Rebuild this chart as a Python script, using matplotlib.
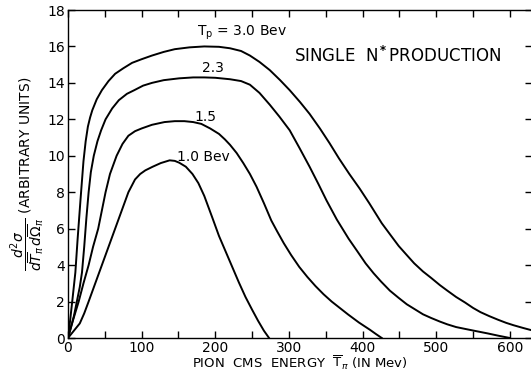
import matplotlib
matplotlib.use('Agg')
import matplotlib.pyplot as plt
from matplotlib.ticker import MultipleLocator

# pion CMS energy (Mev) and cross section (arbitrary units) for each beam energy
tp30_x = [0, 3, 6, 10, 13, 17, 21, 24, 27, 30, 33, 39, 46, 55, 64, 75, 87, 100, 114,
          130, 145, 165, 185, 205, 220, 235, 247, 260, 274, 288, 301, 315, 328, 342,
          355, 368, 382, 396, 409, 426, 437, 449, 460, 470, 482, 493, 505, 515, 527,
          539, 550, 560, 572, 584, 595, 605, 618, 630]
tp30_y = [0, 1.0, 2.1, 3.6, 5.4, 7.6, 9.7, 10.8, 11.6, 12.1, 12.5, 13.1, 13.6, 14.1,
          14.5, 14.8, 15.1, 15.3, 15.5, 15.7, 15.85, 15.95, 16.0, 15.98, 15.9, 15.75,
          15.5, 15.15, 14.7, 14.15, 13.6, 12.95, 12.3, 11.5, 10.7, 9.85, 9.0, 8.2, 7.4,
          6.3, 5.7, 5.05, 4.55, 4.1, 3.65, 3.3, 2.9, 2.6, 2.25, 1.95, 1.65, 1.42, 1.2,
          1.0, 0.83, 0.7, 0.55, 0.42]

tp23_x = [0, 4, 8, 12, 16, 19, 22, 25, 28, 31, 35, 40, 45, 51, 60, 69, 80, 90, 102,
          114, 130, 151, 170, 185, 200, 220, 235, 247, 260, 274, 287, 301, 314, 328,
          340, 351, 365, 381, 393, 404, 415, 425, 437, 449, 460, 470, 482, 493, 505,
          515, 527, 539, 555, 570, 585, 600]
tp23_y = [0, 0.6, 1.2, 2.0, 2.8, 3.6, 5.0, 6.6, 8.0, 9.1, 10.0, 10.8, 11.4, 12.0, 12.6,
          13.05, 13.4, 13.6, 13.85, 14.0, 14.15, 14.25, 14.3, 14.3, 14.28, 14.2, 14.1,
          13.9, 13.45, 12.8, 12.15, 11.4, 10.45, 9.4, 8.45, 7.55, 6.5, 5.45, 4.75, 4.1,
          3.55, 3.1, 2.6, 2.2, 1.85, 1.6, 1.3, 1.1, 0.9, 0.75, 0.6, 0.5, 0.37, 0.25,
          0.12, 0]

tp15_x = [0, 7, 14.5, 21, 28, 34, 41, 46, 51, 57, 66, 74, 82, 91, 100, 114, 131, 145,
          158, 170, 181, 193, 205, 213, 220, 229, 238, 247, 256, 266, 276, 284, 293,
          303, 314, 325, 336, 347, 358, 369, 380, 395, 410, 418, 426]
tp15_y = [0, 1.0, 2.0, 3.0, 4.0, 5.0, 6.0, 7.0, 8.0, 9.0, 10.0, 10.65, 11.1, 11.35,
          11.5, 11.7, 11.85, 11.9, 11.9, 11.85, 11.75, 11.5, 11.2, 10.9, 10.6, 10.15,
          9.6, 9.0, 8.3, 7.4, 6.45, 5.85, 5.2, 4.55, 3.9, 3.35, 2.85, 2.4, 2.0, 1.65,
          1.3, 0.85, 0.45, 0.22, 0]

tp10_x = [0, 8, 16, 22, 28, 37, 46, 55, 64, 73, 82, 91, 98, 105, 115, 126, 138, 145,
          151, 160, 169, 177, 185, 196, 205, 214, 223, 232, 241, 250, 258, 266, 273]
tp10_y = [0, 0.4, 0.8, 1.35, 2.0, 3.0, 4.0, 5.0, 6.0, 7.0, 8.0, 8.7, 9.0, 9.2, 9.4,
          9.6, 9.75, 9.72, 9.62, 9.4, 9.0, 8.5, 7.8, 6.6, 5.6, 4.75, 3.9, 3.05, 2.25,
          1.55, 0.95, 0.4, 0]

x_ticks = [0, 100, 200, 300, 400, 500, 600]
x_tick_labels = ['0', '100', '200', '300', '400', '500', '600']
y_ticks = [0, 2, 4, 6, 8, 10, 12, 14, 16, 18]

fig = plt.figure(figsize=(5.31, 3.72), dpi=100)
ax = fig.add_axes([68 / 531, 1 - 338 / 372, 464 / 531, 328 / 372])

for xs, ys in [(tp30_x, tp30_y), (tp23_x, tp23_y), (tp15_x, tp15_y), (tp10_x, tp10_y)]:
    ax.plot(xs, ys, color='black', lw=1.4, solid_joinstyle='round')

ax.set_xlim(0, 630)
ax.set_ylim(0, 18)
ax.set_xticks(x_ticks)
ax.set_xticklabels(x_tick_labels)
ax.xaxis.set_minor_locator(MultipleLocator(50))
ax.set_yticks(y_ticks)
ax.tick_params(which='both', direction='in', top=True, right=True, length=5,
               width=1.0, labelsize=10, pad=2)
for s in ax.spines.values():
    s.set_linewidth(1.0)

ax.text(175, 16.75, r'T$_\mathrm{p}$ = 3.0 Bev', fontsize=10, va='center')
ax.text(197, 14.8, '2.3', fontsize=10, va='center', ha='center')
ax.text(187, 12.15, '1.5', fontsize=10, va='center', ha='center')
ax.text(148, 9.95, '1.0 Bev', fontsize=10, va='center')
ax.text(307, 15.5, r'SINGLE  N$^{\bf *}$PRODUCTION', fontsize=12, va='center')

ax.set_xlabel(r'PION  CMS  ENERGY  $\overline{\mathrm{T}}_{\pi}$ (IN Mev)',
              fontsize=9.5, labelpad=-1)
ax.set_ylabel(r'$\dfrac{d^2\sigma}{d\overline{T}_\pi\,d\overline{\Omega}_\pi}$'
              r' (ARBITRARY UNITS)', fontsize=10, labelpad=0)

fig.savefig('out.png', dpi=100)
